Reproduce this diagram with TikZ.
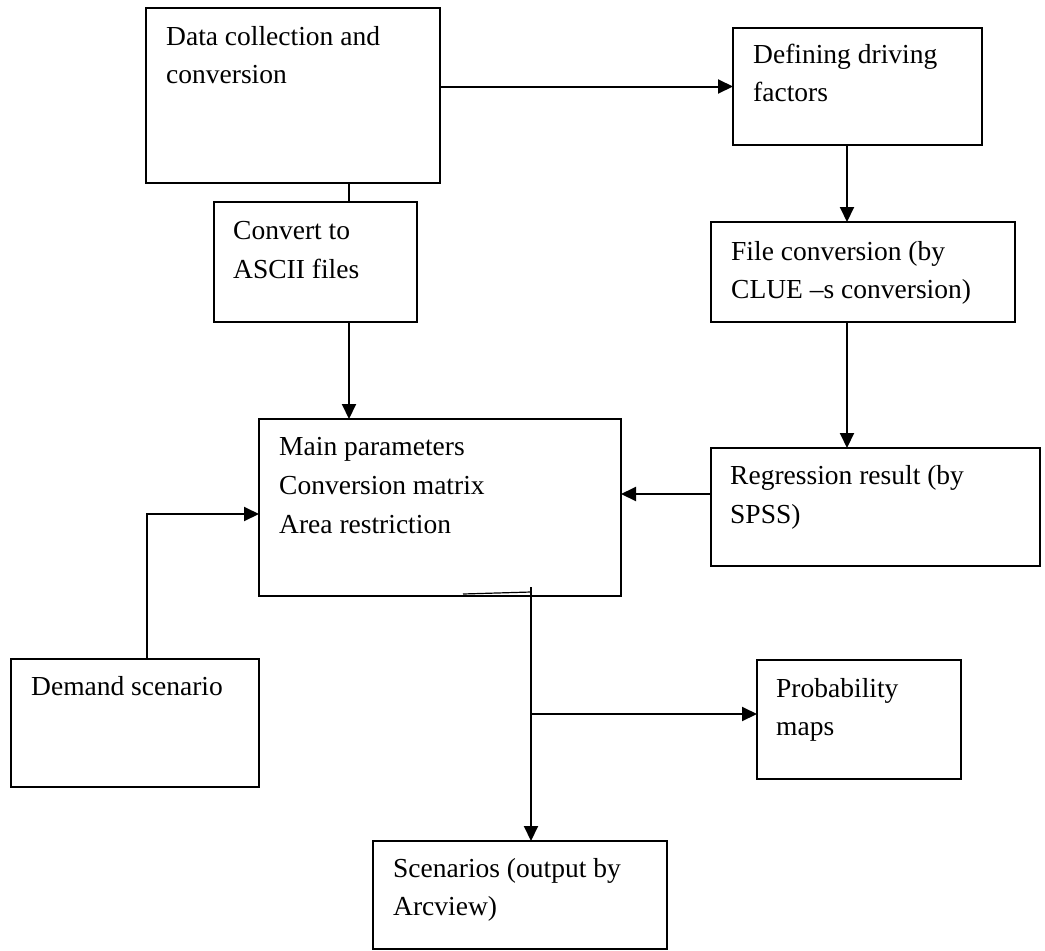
\documentclass[tikz,border=0pt]{standalone}
\usepackage{fontspec}
\setmainfont{Liberation Serif}
\usetikzlibrary{arrows.meta}
\begin{document}
\begin{tikzpicture}[x=1pt, y=-1pt,
  box/.style={draw, line width=2pt, rectangle, anchor=north west, inner sep=0pt, outer sep=0pt},
  txt/.style={anchor=base west, inner sep=0pt, font=\fontsize{27.5}{33}\selectfont},
  link/.style={line width=2pt},
  arr/.style={link, -{Triangle[length=15pt, width=14pt]}}]
\clip (0,0) rectangle (1045,951);

% boxes
\node[box, minimum width=294pt, minimum height=175pt] (collect) at (146,8) {};
\node[box, minimum width=249pt, minimum height=117pt] (driving) at (733,28) {};
\node[box, minimum width=203pt, minimum height=120pt] (ascii) at (214,202) {};
\node[box, minimum width=304pt, minimum height=100pt] (fileconv) at (711,222) {};
\node[box, minimum width=362pt, minimum height=177pt] (mainp) at (259,419) {};
\node[box, minimum width=329pt, minimum height=118pt] (regress) at (711,448) {};
\node[box, minimum width=248pt, minimum height=128pt] (demand) at (11,659) {};
\node[box, minimum width=204pt, minimum height=119pt] (prob) at (757,660) {};
\node[box, minimum width=294pt, minimum height=108pt] (scen) at (373,841) {};

% labels
\node[txt] (collect1) at (166,45) {Data collection and};
\node[txt] (collect2) at (166,83) {conversion};
\node[txt] (driving1) at (753,63) {Defining driving};
\node[txt] (driving2) at (753,101) {factors};
\node[txt] (ascii1) at (233,239) {Convert to};
\node[txt] (ascii2) at (233,278) {ASCII files};
\node[txt] (fileconv1) at (731,260) {File conversion (by};
\node[txt] (fileconv2) at (731,298) {CLUE –s conversion)};
\node[txt] (mainp1) at (279,455) {Main parameters};
\node[txt] (mainp2) at (279,494) {Conversion matrix};
\node[txt] (mainp3) at (279,533) {Area restriction};
\node[txt] (regress1) at (730,484) {Regression result (by};
\node[txt] (regress2) at (730,523) {SPSS)};
\node[txt] (demand1) at (31,695) {Demand scenario};
\node[txt] (prob1) at (776,697) {Probability};
\node[txt] (prob2) at (776,735) {maps};
\node[txt] (scen1) at (393,877) {Scenarios (output by};
\node[txt] (scen2) at (393,915) {Arcview)};

% routing guides
\coordinate (leftrun) at (349,0);
\coordinate (rightrun) at (847,0);
\coordinate (regrow) at (0,494);
\coordinate (demrow) at (147,514);
\coordinate (outrun) at (531,587);
\coordinate (stub) at (463,594);
\coordinate (stubend) at (531,592);
\coordinate (branch) at (531,714);

% connectors
\draw[arr] (collect.east |- driving.west) -- (driving.west);
\draw[link] (collect.south -| leftrun) -- (ascii.north -| leftrun);
\draw[arr] (ascii.south -| leftrun) -- (mainp.north -| leftrun);
\draw[arr] (driving.south -| rightrun) -- (fileconv.north -| rightrun);
\draw[arr] (fileconv.south -| rightrun) -- (regress.north -| rightrun);
\draw[arr] (regress.west |- regrow) -- (mainp.east |- regrow);
\draw[arr] (demand.north -| demrow) -- (demrow) -- (mainp.west |- demrow);
\draw[line width=1.2pt] (stub) -- (stubend);
\draw[arr] (outrun) -- (scen.north -| outrun);
\draw[arr] (branch) -- (prob.west |- branch);
\end{tikzpicture}
\end{document}
